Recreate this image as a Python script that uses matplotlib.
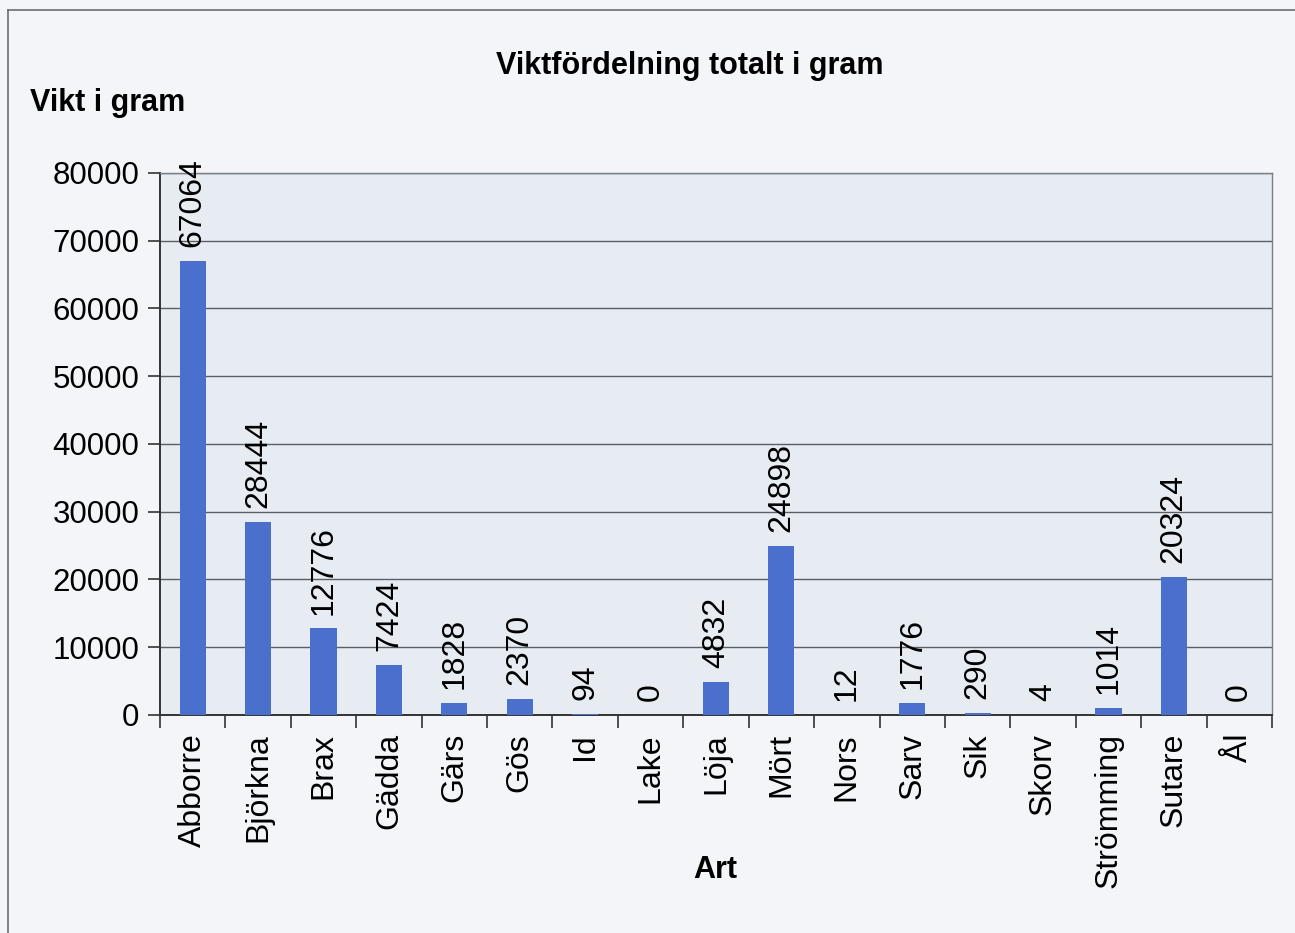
import matplotlib.pyplot as plt
import numpy as np
from matplotlib.lines import Line2D

plt.rcParams['font.family'] = ['Liberation Sans', 'DejaVu Sans']

# Data
arter = ['Abborre', 'Björkna', 'Brax', 'Gädda', 'Gärs', 'Gös', 'Id', 'Lake', 'Löja',
         'Mört', 'Nors', 'Sarv', 'Sik', 'Skorv', 'Strömming', 'Sutare', 'Ål']
vikt = [67064, 28444, 12776, 7424, 1828, 2370, 94, 0, 4832,
        24898, 12, 1776, 290, 4, 1014, 20324, 0]
y_ticks = [0, 10000, 20000, 30000, 40000, 50000, 60000, 70000, 80000]

bar_color = '#4a6fcc'
grid_color = '#5a5e66'

fig = plt.figure(figsize=(12.95, 9.33), dpi=100, facecolor='#f3f5f8')
ax = fig.add_axes([0.1236, 0.2337, 0.8586, 0.5809])
ax.set_facecolor('#e7ebf2')

x = np.arange(len(arter))
bars = ax.bar(x, vikt, width=0.4, color=bar_color, zorder=3)

ax.set_xlim(-0.5, len(arter) - 0.5)
ax.set_ylim(0, 80000)
ax.set_yticks(y_ticks)
ax.set_yticklabels([str(v) for v in y_ticks], fontsize=22.5)
ax.yaxis.grid(True, color=grid_color, linewidth=1.0, zorder=1)
ax.set_axisbelow(True)

# category labels centred, tick marks between categories
ax.set_xticks(x)
ax.set_xticklabels(arter, rotation=90, fontsize=23)
ax.tick_params(axis='x', which='major', length=0, pad=13)
ax.set_xticks(np.arange(-0.5, len(arter)), minor=True)
ax.tick_params(axis='x', which='minor', length=9, width=1.2, color='#333333', direction='out')
ax.tick_params(axis='y', length=9, width=1.2, color='#333333', pad=6)

for s in ['left', 'bottom']:
    ax.spines[s].set_color('#333333')
    ax.spines[s].set_linewidth(1.4)
for s in ['top', 'right']:
    ax.spines[s].set_color('#7a7e86')
    ax.spines[s].set_linewidth(1.0)

for b, v in zip(bars, vikt):
    ax.annotate(str(v), (b.get_x() + b.get_width() / 2, v),
                xytext=(0, 10), textcoords='offset points',
                rotation=90, ha='center', va='bottom', fontsize=23)

fig.text(0.533, 0.929, 'Viktfördelning totalt i gram', ha='center', va='center',
         fontsize=22, fontweight='bold')
fig.text(0.023, 0.890, 'Vikt i gram', ha='left', va='center',
         fontsize=22, fontweight='bold')
fig.text(0.552, 0.067, 'Art', ha='center', va='center',
         fontsize=22, fontweight='bold')

# outer chart frame (top and left edges visible in the scan)
fig.add_artist(Line2D([0.006, 1.0], [0.989, 0.989], color='#6a6e76', linewidth=1.2))
fig.add_artist(Line2D([0.006, 0.006], [0.0, 0.989], color='#6a6e76', linewidth=1.2))

fig.savefig('out.png', dpi=100, facecolor=fig.get_facecolor())
